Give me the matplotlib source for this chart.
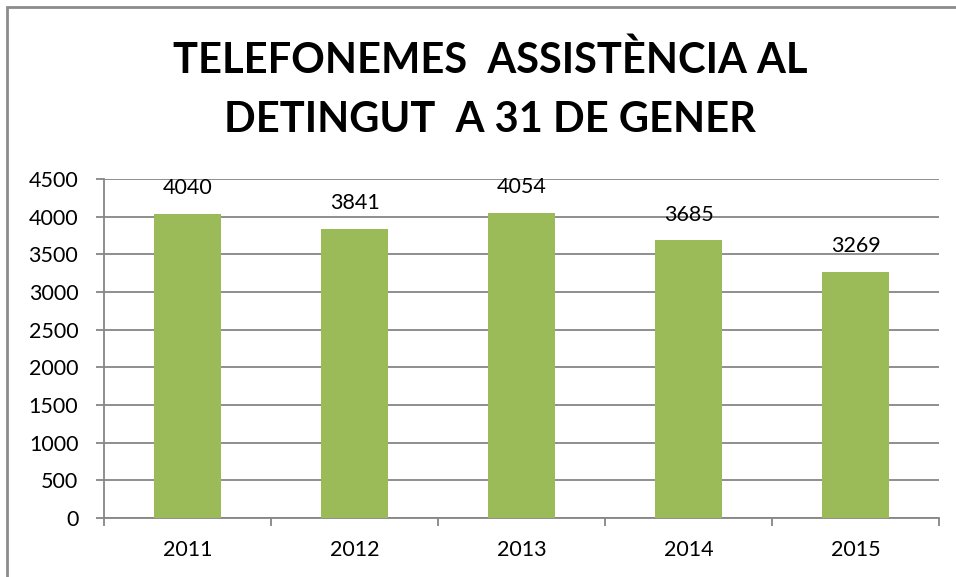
import matplotlib.pyplot as plt
from matplotlib.patches import Rectangle
import numpy as np

years = ["2011", "2012", "2013", "2014", "2015"]
values = [4040, 3841, 4054, 3685, 3269]
title_lines = ["TELEFONEMES  ASSISTÈNCIA AL", "DETINGUT  A 31 DE GENER"]

plt.rcParams['font.family'] = ['Lato', 'DejaVu Sans']

fig = plt.figure(figsize=(9.56, 5.77), dpi=100)
ax = fig.add_axes([104/956, 1 - 518/577, (939 - 104)/956, (518 - 179)/577])

x = np.arange(len(years))
ax.bar(x, values, width=0.4, color="#9BBB59", zorder=3)
for xi, v in zip(x, values):
    ax.annotate(str(v), (xi, v), xytext=(0, 14), textcoords="offset points",
                ha="center", va="baseline", fontsize=15.5)

ax.set_xlim(-0.5, len(years) - 0.5)
ax.set_ylim(0, 4500)
ax.set_yticks(np.arange(0, 4501, 500))
ax.set_xticks(x)
ax.set_xticklabels(years, fontsize=15.5)
ax.set_xticks(np.arange(-0.5, len(years), 1), minor=True)
ax.tick_params(axis="x", which="major", length=0, pad=16)
ax.tick_params(axis="x", which="minor", length=5.5, color="#868686", width=1.3)
ax.tick_params(axis="y", length=5.5, color="#868686", width=1.3, labelsize=15.5, pad=13)
ax.grid(axis="y", color="#868686", lw=1.3, zorder=0)
for s in ["top", "right"]:
    ax.spines[s].set_visible(False)
for s in ["left", "bottom"]:
    ax.spines[s].set_color("#868686")
    ax.spines[s].set_linewidth(1.3)

# title: two lines placed on their baselines
for line, base in zip(title_lines, [73, 132]):
    fig.text(490/956, 1 - base/577, line, ha="center", va="baseline",
             fontsize=30, fontweight="bold")

fig.patches.append(Rectangle((7/956, -0.1), 1.2, 1 - 7/577 + 0.1,
                             transform=fig.transFigure, fill=False,
                             edgecolor="#8C8C8C", lw=2))

fig.savefig("out.png", dpi=100)
